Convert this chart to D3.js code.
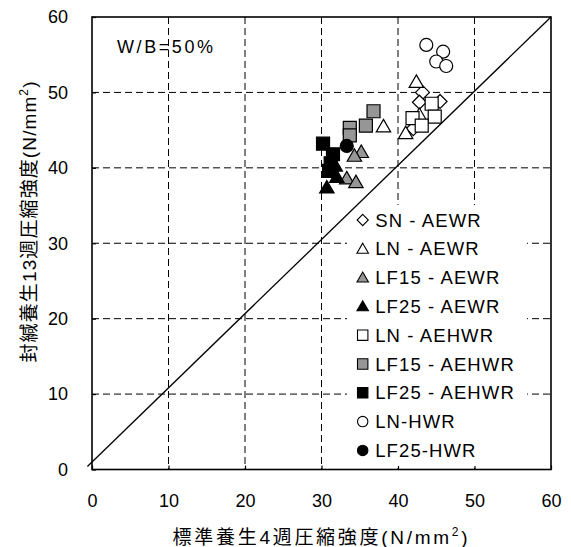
<!DOCTYPE html>
<html>
<head>
<meta charset="utf-8">
<script src="https://cdn.jsdelivr.net/npm/d3@7"></script>
<style>
  body{margin:0;background:#fff;}
  text{font-family:"Liberation Sans",Arial,"Noto Sans CJK JP",sans-serif;fill:#000;}
</style>
</head>
<body>
<script>
// series data (x: standard cure 4 weeks, y: sealed cure 13 weeks)
var snAewrX=[43.2,42.8,45.5,42.0], snAewrY=[50.0,48.7,48.8,45.2];
var lnAewrX=[42.4,38.1,41.0,42.8], lnAewrY=[51.4,45.5,44.6,47.0];
var lf15AewrX=[35.2,34.3,33.3,34.5], lf15AewrY=[42.1,41.6,38.6,38.1];
var lf25AewrX=[30.7,32.0,31.8], lf25AewrY=[37.4,38.8,40.3];
var lnAehwrX=[44.4,41.9,44.8,43.1], lnAehwrY=[48.5,46.6,46.8,45.6];
var lf15AehwrX=[36.8,35.8,33.7,33.7], lf15AehwrY=[47.5,45.6,45.3,44.3];
var lf25AehwrX=[30.2,31.5,31.2,31.0], lf25AehwrY=[43.2,41.8,40.6,39.6];
var lnHwrX=[43.7,45.9,45.0,46.3], lnHwrY=[56.3,55.4,54.1,53.5];
var lf25HwrX=[33.3], lf25HwrY=[42.9];

var names=["SN - AEWR","LN - AEWR","LF15 - AEWR","LF25 - AEWR","LN - AEHWR","LF15 - AEHWR","LF25 - AEHWR","LN-HWR","LF25-HWR"];
var shapes=["diamond","triangle","triangle","triangle","square","square","square","circle","circle"];
var fills=["#fff","#fff","#969696","#000","#fff","#969696","#000","#fff","#000"];
var xs=[snAewrX,lnAewrX,lf15AewrX,lf25AewrX,lnAehwrX,lf15AehwrX,lf25AehwrX,lnHwrX,lf25HwrX];
var ys=[snAewrY,lnAewrY,lf15AewrY,lf25AewrY,lnAehwrY,lf15AehwrY,lf25AehwrY,lnHwrY,lf25HwrY];

var ticks=[0,10,20,30,40,50,60];
var lineX=[-0.6,60], lineY=[0.4,60];

var width=571, height=547;
var svg=d3.select("body").append("svg")
    .attr("width",width)
    .attr("height",height);

var x=d3.scaleLinear().domain([0,60]).range([92,551]);
var y=d3.scaleLinear().domain([0,60]).range([469.5,17]);

// marker paths
function marker(shape,s){
  if(shape=="diamond") return "M0,"+(-7*s)+"L"+(7*s)+",0L0,"+(7*s)+"L"+(-7*s)+",0Z";
  if(shape=="triangle") return "M0,"+(-7*s)+"L"+(7.2*s)+","+(5.5*s)+"L"+(-7.2*s)+","+(5.5*s)+"Z";
  if(shape=="square") return "M"+(-6.5*s)+","+(-6.5*s)+"h"+(13*s)+"v"+(13*s)+"h"+(-13*s)+"Z";
  var r=6.5*s;
  return "M"+r+",0A"+r+","+r+" 0 1,1 "+(-r)+",0A"+r+","+r+" 0 1,1 "+r+",0Z";
}

// grid
var inner=ticks.slice(1,-1);
svg.selectAll(".gx").data(inner).enter().append("line")
  .attr("x1",function(d){return x(d);}).attr("x2",function(d){return x(d);})
  .attr("y1",y(60)).attr("y2",y(0))
  .attr("stroke","#000").attr("stroke-width",1).attr("stroke-dasharray","7,4");
svg.selectAll(".gy").data(inner).enter().append("line")
  .attr("x1",x(0)).attr("x2",x(60))
  .attr("y1",function(d){return y(d);}).attr("y2",function(d){return y(d);})
  .attr("stroke","#000").attr("stroke-width",1).attr("stroke-dasharray","7,4");

// axes (ticks pointing inward)
var xAxis=svg.append("g").attr("transform","translate(0,"+y(0)+")")
  .call(d3.axisBottom(x).tickValues(ticks).tickSize(-4).tickPadding(25));
var yAxis=svg.append("g").attr("transform","translate("+x(0)+",0)")
  .call(d3.axisLeft(y).tickValues(ticks).tickSize(-4).tickPadding(24));
[xAxis,yAxis].forEach(function(g){
  g.select(".domain").remove();
  g.selectAll("line").attr("stroke","#000").attr("stroke-width",1.2);
  g.selectAll("text").attr("font-size","18px").attr("font-family",null).attr("fill","#000");
});

// points
for(var i=0;i<names.length;i++){
  svg.append("g").selectAll("path").data(d3.range(xs[i].length)).enter().append("path")
    .attr("d",marker(shapes[i],1))
    .attr("transform",(function(k){return function(j){return "translate("+x(xs[k][j])+","+y(ys[k][j])+")";};})(i))
    .attr("fill",fills[i])
    .attr("stroke","#000").attr("stroke-width",1.2);
}

// frame
svg.append("rect").attr("x",x(0)).attr("y",y(60))
  .attr("width",x(60)-x(0)).attr("height",y(0)-y(60))
  .attr("fill","none").attr("stroke","#000").attr("stroke-width",1.6);

// legend
var lg=svg.append("g");
lg.append("rect").attr("x",347).attr("y",205).attr("width",180).attr("height",261).attr("fill","#fff");
var legRow=lg.selectAll(".row").data(names).enter().append("g")
  .attr("transform",function(d,i){return "translate(362.7,"+(220+i*28.8)+")";});
legRow.append("path")
  .attr("d",function(d,i){return marker(shapes[i],0.8);})
  .attr("fill",function(d,i){return fills[i];})
  .attr("stroke","#000").attr("stroke-width",1.1);
legRow.append("text").attr("x",12.5).attr("dy","0.36em")
  .attr("font-size","18.5px").attr("letter-spacing","1.1px")
  .style("white-space","pre")
  .text(function(d){return d;});

// 1:1 line (drawn over the chart)
svg.append("line")
  .attr("x1",x(lineX[0])).attr("y1",y(lineY[0]))
  .attr("x2",x(lineX[1])).attr("y2",y(lineY[1]))
  .attr("stroke","#000").attr("stroke-width",1.3);

// W/B note
svg.append("text").attr("x",117).attr("y",53)
  .attr("font-size","18px").attr("textLength",96).attr("lengthAdjust","spacing")
  .text("W/B=50%");

// axis titles
var xt=svg.append("text").attr("x",320).attr("y",544).attr("text-anchor","middle")
  .attr("font-size","19px").attr("textLength",295).attr("lengthAdjust","spacing");
xt.append("tspan").text("標準養生4週圧縮強度(N/mm");
xt.append("tspan").attr("dy",-8).attr("font-size","12px").text("2");
xt.append("tspan").attr("dy",8).text(")");

var yt=svg.append("text").attr("transform","translate(36,222) rotate(-90)").attr("text-anchor","middle")
  .attr("font-size","19px").attr("textLength",281).attr("lengthAdjust","spacing");
yt.append("tspan").text("封緘養生13週圧縮強度(N/mm");
yt.append("tspan").attr("dy",-8).attr("font-size","12px").text("2");
yt.append("tspan").attr("dy",8).text(")");
</script>
</body>
</html>
